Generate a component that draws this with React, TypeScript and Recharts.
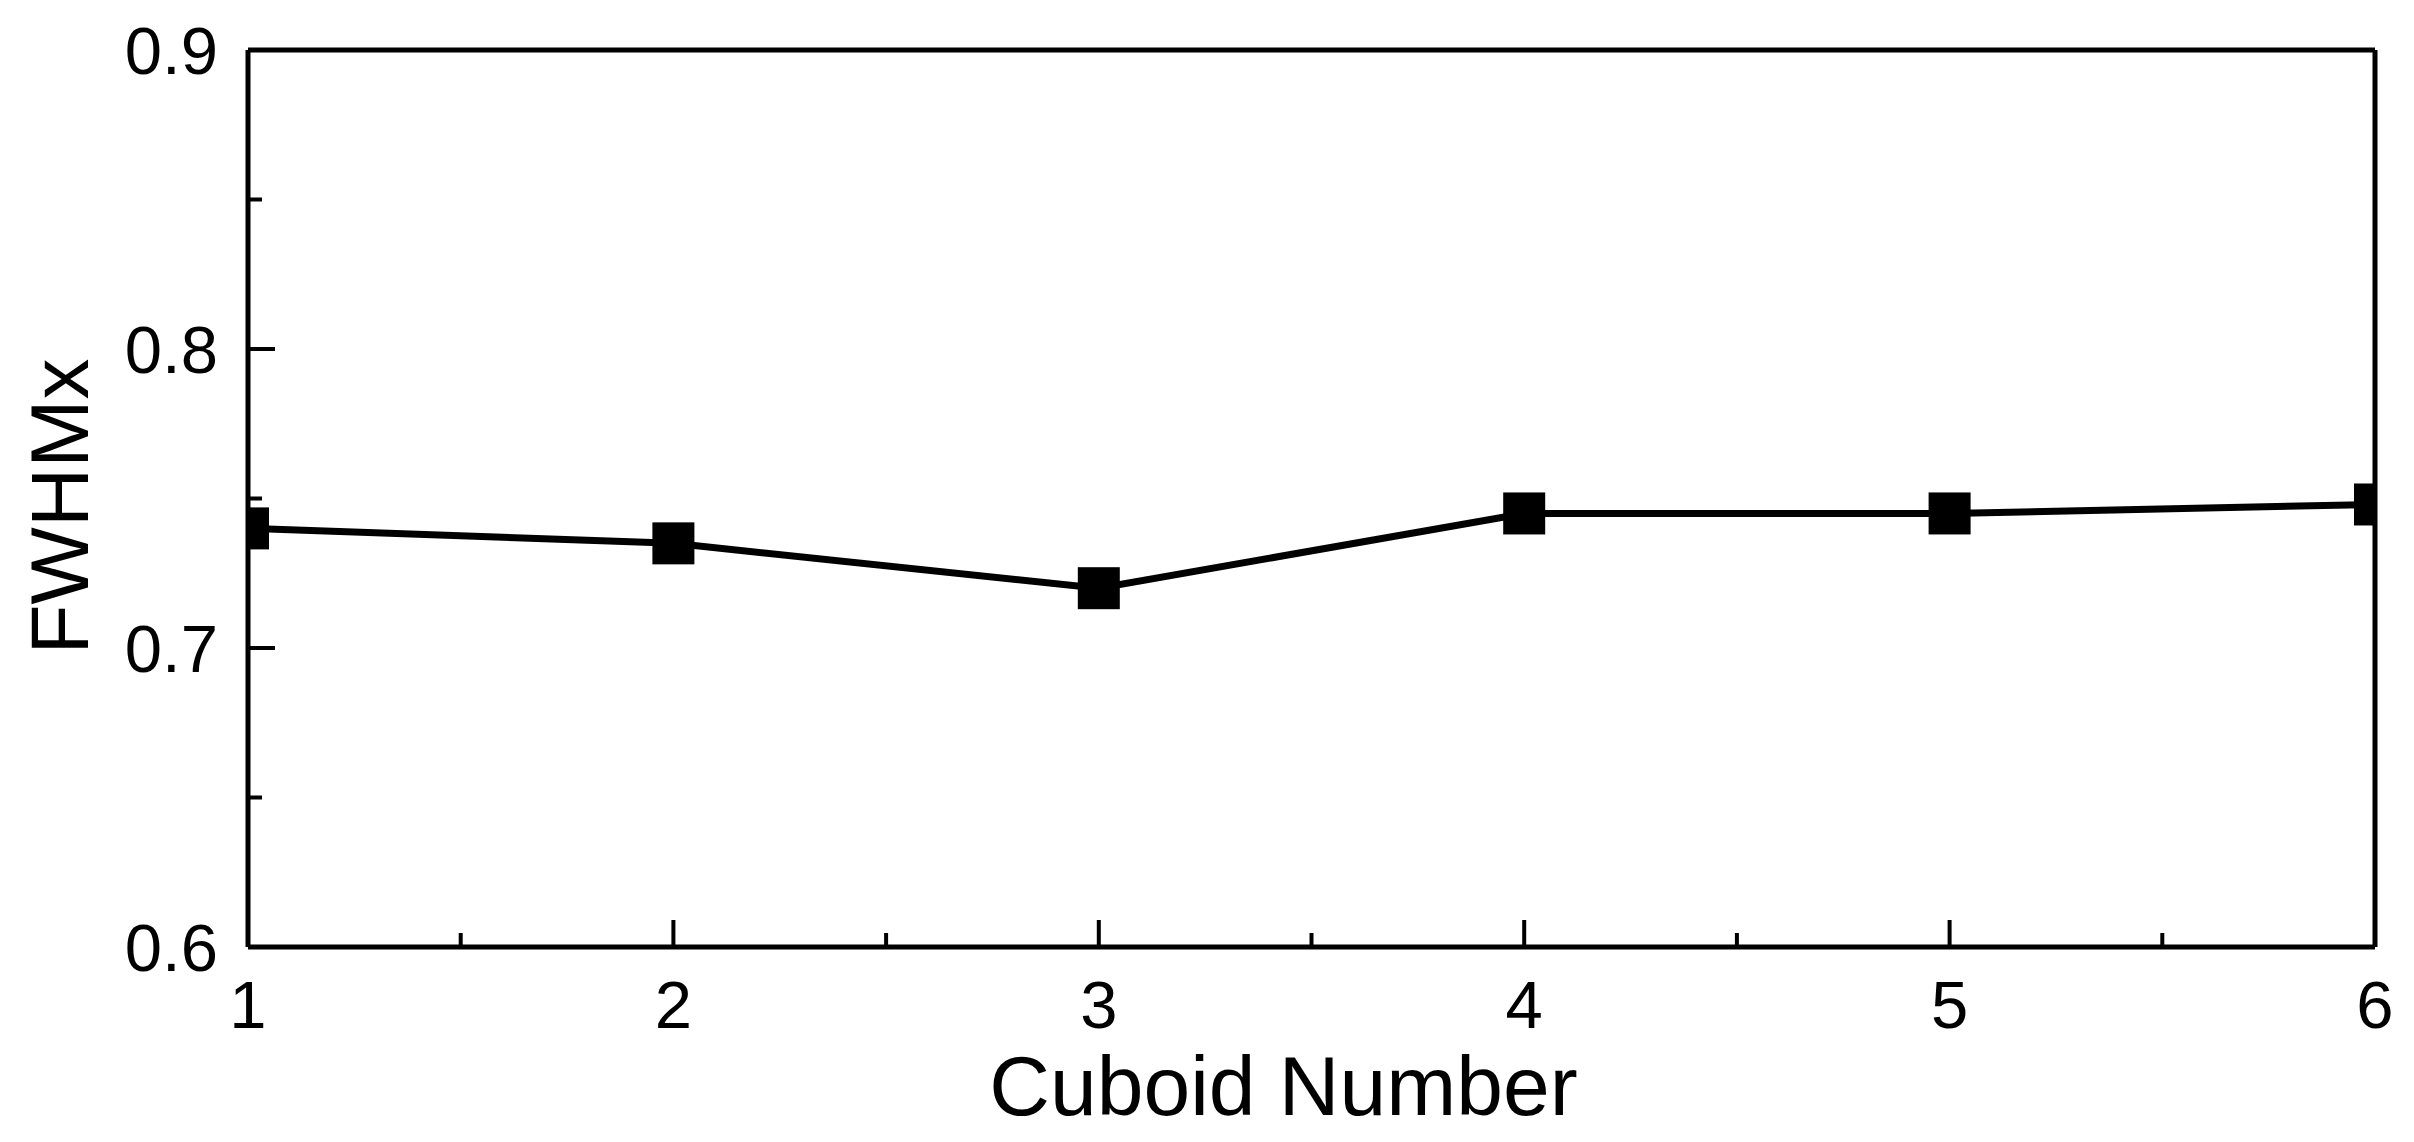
import React from "react";
import {
  LineChart,
  Line,
  XAxis,
  YAxis,
  ReferenceLine,
  Label,
} from "recharts";

// values
const cuboidNumbers = [1, 2, 3, 4, 5, 6];
const fwhmxValues = [0.74, 0.735, 0.72, 0.745, 0.745, 0.748];

const xTicks = [1, 1.5, 2, 2.5, 3, 3.5, 4, 4.5, 5, 5.5, 6];
const yTicks = [0.6, 0.65, 0.7, 0.75, 0.8, 0.85, 0.9];

const FONT = "Arial, 'Liberation Sans', sans-serif";

const CHART_W = 2414;
const CHART_H = 1142;
const Y_AXIS_W = 248;
const MARGIN_RIGHT = 39;
const PLOT_LEFT = Y_AXIS_W;
const PLOT_RIGHT = CHART_W - MARGIN_RIGHT;

const data = cuboidNumbers.map((n, i) => ({ cuboid: n, fwhmx: fwhmxValues[i] }));

const isMajorX = (v: number) => Math.abs(v - Math.round(v)) < 1e-6;
const isMajorY = (v: number) => Math.round(v * 20) % 2 === 0;

// ticks point inward, like Origin does
const XTick = (props: any) => {
  const { x, y, payload } = props;
  const major = isMajorX(payload.value);
  return (
    <g>
      <line x1={x} x2={x} y1={y} y2={y - (major ? 27 : 14)} stroke="#000" strokeWidth={4} />
      {major && (
        <text x={x} y={y + 81} textAnchor="middle" fontSize={67} fontFamily={FONT} fill="#000">
          {payload.value}
        </text>
      )}
    </g>
  );
};

const YTick = (props: any) => {
  const { x, y, payload } = props;
  const major = isMajorY(payload.value);
  return (
    <g>
      <line x1={x} x2={x + (major ? 27 : 14)} y1={y} y2={y} stroke="#000" strokeWidth={4} />
      {major && (
        <text x={x - 30} y={y + 24} textAnchor="end" fontSize={67} fontFamily={FONT} fill="#000">
          {payload.value.toFixed(1)}
        </text>
      )}
    </g>
  );
};

// square marker, cut off at the frame like the original
const SquareDot = (props: any) => {
  const { cx, cy } = props;
  if (cx == null || cy == null) return null;
  const x0 = Math.max(cx - 21, PLOT_LEFT);
  const x1 = Math.min(cx + 21, PLOT_RIGHT);
  return <rect x={x0} y={cy - 21} width={x1 - x0} height={42} fill="#000" />;
};

export default function App() {
  return (
    <div style={{ position: "absolute", left: 0, top: 0, background: "#fff" }}>
      <LineChart
        width={CHART_W}
        height={CHART_H}
        data={data}
        margin={{ top: 50, right: MARGIN_RIGHT, left: 0, bottom: 0 }}
      >
        <XAxis
          dataKey="cuboid"
          type="number"
          domain={[1, 6]}
          ticks={xTicks}
          interval={0}
          height={195}
          tickSize={0}
          tickMargin={0}
          tickLine={false}
          axisLine={{ stroke: "#000", strokeWidth: 5 }}
          tick={<XTick />}
        >
          <Label
            content={({ viewBox }: any) => {
              const cx = viewBox.x + viewBox.width / 2 - 28;
              const by = viewBox.y + 168;
              return (
                <text x={cx} y={by} textAnchor="middle" fontSize={84} fontFamily={FONT} fill="#000">
                  Cuboid Number
                </text>
              );
            }}
          />
        </XAxis>
        <YAxis
          type="number"
          domain={[0.6, 0.9]}
          ticks={yTicks}
          interval={0}
          width={Y_AXIS_W}
          tickSize={0}
          tickMargin={0}
          tickLine={false}
          axisLine={{ stroke: "#000", strokeWidth: 5 }}
          tick={<YTick />}
        >
          <Label
            content={({ viewBox }: any) => {
              const cx = viewBox.x + 59;
              const cy = viewBox.y + viewBox.height / 2 + 8;
              return (
                <text
                  x={cx}
                  y={cy}
                  transform={`rotate(-90 ${cx} ${cy})`}
                  textAnchor="middle"
                  dominantBaseline="central"
                  fontSize={82}
                  fontFamily={FONT}
                  fill="#000"
                >
                  FWHMx
                </text>
              );
            }}
          />
        </YAxis>

        {/* frame: top and right edges */}
        <ReferenceLine y={0.9} stroke="#000" strokeWidth={5} />
        <ReferenceLine x={6} stroke="#000" strokeWidth={5} />

        <Line
          type="linear"
          dataKey="fwhmx"
          stroke="#000"
          strokeWidth={7}
          dot={<SquareDot />}
          activeDot={false}
          isAnimationActive={false}
        />
      </LineChart>
    </div>
  );
}
